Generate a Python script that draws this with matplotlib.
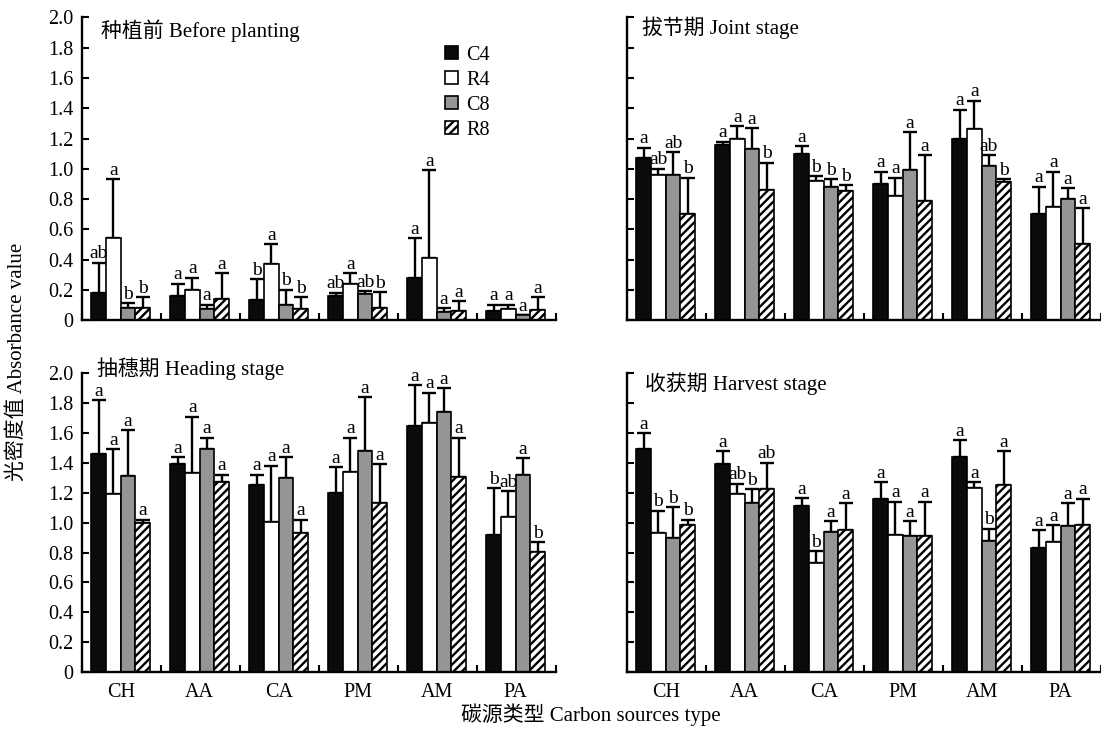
import matplotlib
matplotlib.use("Agg")
import matplotlib.pyplot as plt
import numpy as np
from matplotlib.patches import Patch

plt.rcParams["font.family"] = ["Liberation Serif", "Noto Sans CJK SC"]
plt.rcParams["hatch.linewidth"] = 1.7

sources = ["CH", "AA", "CA", "PM", "AM", "PA"]
treatments = ["C4", "R4", "C8", "R8"]

# 种植前 Before planting  (rows: C4, R4, C8, R8)
before_mean = [[0.18, 0.16, 0.13, 0.16, 0.275, 0.06],
               [0.54, 0.20, 0.37, 0.24, 0.41, 0.07],
               [0.08, 0.075, 0.10, 0.17, 0.05, 0.03],
               [0.08, 0.14, 0.07, 0.08, 0.057, 0.065]]
before_upper = [[0.38, 0.24, 0.27, 0.18, 0.54, 0.10],
                [0.93, 0.28, 0.50, 0.31, 0.99, 0.10],
                [0.11, 0.10, 0.20, 0.19, 0.08, 0.03],
                [0.15, 0.31, 0.15, 0.185, 0.125, 0.15]]
before_letters = [["ab", "a", "b", "ab", "a", "a"],
                  ["a", "a", "a", "a", "a", "a"],
                  ["b", "a", "b", "ab", "a", "a"],
                  ["b", "a", "b", "b", "a", "a"]]

# 拔节期 Joint stage
joint_mean = [[1.07, 1.155, 1.10, 0.90, 1.20, 0.70],
              [0.96, 1.20, 0.92, 0.82, 1.26, 0.75],
              [0.96, 1.13, 0.88, 0.99, 1.015, 0.80],
              [0.70, 0.86, 0.855, 0.79, 0.915, 0.505]]
joint_upper = [[1.14, 1.18, 1.15, 0.98, 1.39, 0.88],
               [1.00, 1.28, 0.95, 0.94, 1.45, 0.98],
               [1.11, 1.27, 0.93, 1.24, 1.09, 0.87],
               [0.94, 1.04, 0.89, 1.09, 0.93, 0.74]]
joint_letters = [["a", "a", "a", "a", "a", "a"],
                 ["ab", "a", "b", "a", "a", "a"],
                 ["ab", "a", "b", "a", "ab", "a"],
                 ["b", "b", "b", "a", "b", "a"]]

# 抽穗期 Heading stage
heading_mean = [[1.46, 1.39, 1.25, 1.20, 1.645, 0.92],
                [1.19, 1.335, 1.005, 1.34, 1.67, 1.04],
                [1.31, 1.49, 1.30, 1.48, 1.74, 1.32],
                [1.00, 1.27, 0.93, 1.13, 1.305, 0.805]]
heading_upper = [[1.82, 1.44, 1.32, 1.37, 1.92, 1.23],
                 [1.49, 1.71, 1.38, 1.57, 1.87, 1.21],
                 [1.62, 1.57, 1.44, 1.84, 1.90, 1.43],
                 [1.02, 1.32, 1.02, 1.39, 1.57, 0.87]]
heading_letters = [["a", "a", "a", "a", "a", "b"],
                   ["a", "a", "a", "a", "a", "ab"],
                   ["a", "a", "a", "a", "a", "a"],
                   ["a", "a", "a", "a", "a", "b"]]

# 收获期 Harvest stage
harvest_mean = [[1.49, 1.39, 1.11, 1.16, 1.44, 0.83],
                [0.93, 1.19, 0.73, 0.92, 1.23, 0.87],
                [0.90, 1.13, 0.94, 0.91, 0.875, 0.98],
                [0.985, 1.225, 0.95, 0.91, 1.25, 0.985]]
harvest_upper = [[1.60, 1.48, 1.165, 1.27, 1.55, 0.95],
                 [1.08, 1.26, 0.81, 1.14, 1.27, 0.985],
                 [1.105, 1.225, 1.01, 1.01, 0.96, 1.13],
                 [1.02, 1.40, 1.13, 1.14, 1.48, 1.16]]
harvest_letters = [["a", "a", "a", "a", "a", "a"],
                   ["b", "ab", "b", "a", "a", "a"],
                   ["b", "b", "a", "a", "b", "a"],
                   ["b", "ab", "a", "a", "a", "a"]]

colors = ["#0b0b0b", "white", "#959595", "white"]
hatches = [None, None, None, "////"]
W = 0.186


def draw_panel(ax, mean, upper, letters, title, title_xy, left_labels, bottom_labels):
    x = np.arange(len(sources)) + 0.49
    for k in range(4):
        xs = x + (k - 1.5) * W
        m = np.array(mean[k])
        up = np.array(upper[k])
        ax.bar(xs, m, width=W, color=colors[k], edgecolor="black",
               linewidth=1.2, hatch=hatches[k], zorder=2)
        ax.errorbar(xs, m, yerr=[np.zeros_like(m), up - m], fmt="none",
                    ecolor="black", elinewidth=1.7, capsize=5, capthick=1.7, zorder=1)
        for xi, ui, lab in zip(xs, up, letters[k]):
            ax.annotate(lab, (xi, ui), xytext=(0, 0.3), textcoords="offset points",
                        ha="center", va="bottom", fontsize=14)

    ax.set_xlim(0, 6)
    ax.set_ylim(0, 2.0)
    for s in ["top", "right"]:
        ax.spines[s].set_visible(False)
    for s in ["left", "bottom"]:
        ax.spines[s].set_linewidth(1.7)

    ax.set_yticks(np.arange(0, 2.01, 0.2))
    ax.tick_params(axis="y", direction="in", length=5, width=1.5, pad=6)
    if left_labels:
        ax.set_yticklabels(["0"] + [f"{v:.1f}" for v in np.arange(0.2, 2.01, 0.2)],
                           fontsize=14.5)
    else:
        ax.set_yticklabels([])

    ax.set_xticks(np.arange(0, 7), minor=True)
    ax.set_xticks(x)
    ax.tick_params(axis="x", which="minor", direction="in", length=5, width=1.5)
    ax.tick_params(axis="x", which="major", length=0, pad=8)
    if bottom_labels:
        ax.set_xticklabels(sources, fontsize=14.5)
    else:
        ax.set_xticklabels([])

    ax.text(title_xy[0], title_xy[1], title, transform=ax.transAxes,
            fontsize=15, ha="left", va="center")


fig = plt.figure(figsize=(11.01, 7.29), dpi=100)
L1, L2, WD = 0.0745, 0.5695, 0.4305
ax1 = fig.add_axes([L1, 0.561, WD, 0.415])
ax2 = fig.add_axes([L2, 0.561, WD, 0.415])
ax3 = fig.add_axes([L1, 0.078, WD, 0.410])
ax4 = fig.add_axes([L2, 0.078, WD, 0.410])

draw_panel(ax1, before_mean, before_upper, before_letters,
           "种植前 Before planting", (0.04, 0.955), True, False)
draw_panel(ax2, joint_mean, joint_upper, joint_letters,
           "拔节期 Joint stage", (0.032, 0.965), False, False)
draw_panel(ax3, heading_mean, heading_upper, heading_letters,
           "抽穗期 Heading stage", (0.032, 1.015), True, True)
draw_panel(ax4, harvest_mean, harvest_upper, harvest_letters,
           "收获期 Harvest stage", (0.038, 0.966), False, True)

handles = [Patch(facecolor=colors[k], edgecolor="black", hatch=hatches[k], linewidth=1.2)
           for k in range(4)]
ax1.legend(handles, treatments, loc="upper left", bbox_to_anchor=(0.745, 0.94),
           frameon=False, fontsize=14.5, handlelength=0.65, handleheight=0.65,
           handletextpad=0.4, labelspacing=0.3, borderpad=0)

fig.text(0.016, 0.503, "光密度值 Absorbance value", rotation=90,
         ha="center", va="center", fontsize=15)
fig.text(0.537, 0.019, "碳源类型 Carbon sources type", ha="center", va="center",
         fontsize=15)

fig.savefig("out.png", dpi=100)
